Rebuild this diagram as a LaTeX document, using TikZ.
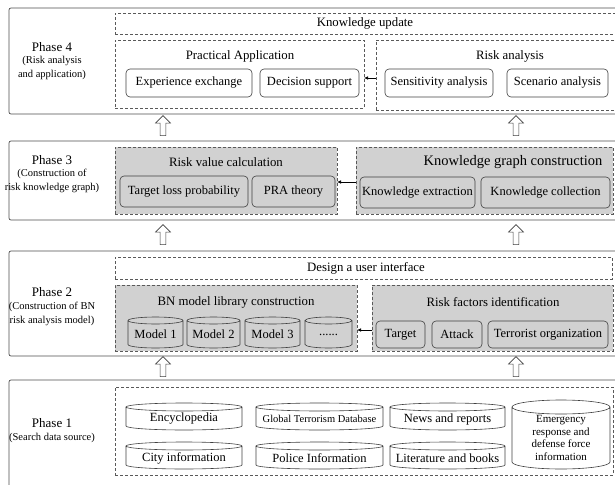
\documentclass[tikz,border=0pt]{standalone}
\usepackage{fontspec}
\setmainfont{Liberation Serif}
\usetikzlibrary{arrows.meta,shapes.arrows,calc}
\tikzset{
 outerbox/.style={draw=black!70, line width=0.7pt, rounded corners=2pt},
 dbox/.style={draw=black!65, dash pattern=on 3pt off 2pt, line width=0.6pt},
 gbox/.style={dbox, fill=black!18},
 sub/.style={draw=black!75, rounded corners=4pt, line width=0.6pt, font=\fontsize{12.5}{14}\selectfont},
 ttl/.style={font=\fontsize{12.8}{14}\selectfont, inner sep=0pt},
 bigttl/.style={font=\fontsize{14.5}{16}\selectfont, inner sep=0pt},
 cyltext/.style={font=\fontsize{12.5}{14}\selectfont},
 phasettl/.style={align=center, font=\fontsize{13}{15}\selectfont, inner sep=0pt},
 phasesub/.style={align=center, font=\fontsize{10.5}{13.5}\selectfont, inner sep=0pt},
 hollow/.style={single arrow, draw=black!75, fill=white, shape border rotate=90, minimum height=20pt, minimum width=15pt, single arrow head extend=3.5pt, inner sep=1.8pt, line width=0.6pt},
 link/.style={-{Latex[length=4pt,width=3.5pt]}, line width=0.6pt},
}
\newcommand\bx[7]{\node[#6, minimum width={(#4)-(#2)}, minimum height={(#5)-(#3)}, inner sep=0pt, outer sep=0pt, align=center] (#1) at ({((#2)+(#4))/2},{((#3)+(#5))/2}) {#7};}
\newcommand\low[2]{\raisebox{-#1pt}[\height][\depth]{#2}}
\newcommand\cyldraw[2]{\draw[line width=0.6pt, draw=black!75] let \p1=(#1.north west), \p2=(#1.south east), \n1={(\x2-\x1)/2} in
 (\x1,{\y1-#2pt}) -- (\x1,{\y2+#2pt}) arc[start angle=180, end angle=360, x radius=\n1, y radius={#2pt}] -- (\x2,{\y1-#2pt}) arc[start angle=0, end angle=180, x radius=\n1, y radius={#2pt}] arc[start angle=180, end angle=360, x radius=\n1, y radius={#2pt}];}
\begin{document}
\begin{tikzpicture}[x=1pt,y=-1pt]
\useasboundingbox (0,0) rectangle (615,484);
\clip (0,0) rectangle (615,484);
% ---------------- Phase 4
\draw[outerbox] (9,8) rectangle (640,114);
\node[phasettl] (p4) at (52,47) {Phase 4};
\node[phasesub] (p4s) at (52,68) {(Risk analysis\\and application)};
\bx{ku}{115}{13}{630}{34}{dbox}{}
\node[ttl] (kut) at (365,23) {Knowledge update};
\bx{pa}{115}{40}{364}{108}{dbox}{}
\node[ttl] (pat) at (240,56) {Practical Application};
\bx{ee}{126}{69}{252}{97}{sub}{Experience exchange}
\bx{ds}{260}{69}{359}{97}{sub}{Decision support}
\bx{ra}{376}{40}{640}{110}{dbox}{}
\node[ttl] (rat) at (510,56) {Risk analysis};
\bx{sa}{385}{69}{493}{97}{sub}{Sensitivity analysis}
\bx{sc}{507}{69}{608}{97}{sub}{Scenario analysis}
\coordinate (y4) at (0,78);
\draw[link] (ra.west |- y4) -- (pa.east |- y4);
\node[hollow] (h4a) at (163,127) {};
\node[hollow] (h4b) at (516,127) {};
% ---------------- Phase 3
\draw[outerbox] (9,141) rectangle (640,220);
\node[phasettl] (p3) at (52,160) {Phase 3};
\node[phasesub] (p3s) at (52,181) {(Construction of\\risk knowledge graph)};
\bx{rv}{115}{147}{337}{214}{gbox}{}
\node[ttl] (rvt) at (226,162) {Risk value calculation};
\bx{tl}{120}{176}{248}{207}{sub}{Target loss probability}
\bx{pr}{252}{176}{335}{207}{sub}{PRA theory}
\bx{kg}{356}{147}{613}{214}{gbox}{}
\node[bigttl] (kgt) at (513,162) {Knowledge graph construction};
\bx{ke}{360}{177}{475}{208}{sub}{Knowledge extraction}
\bx{kc}{481}{177}{610}{208}{sub}{Knowledge collection}
\coordinate (y3) at (0,182);
\draw[link] (kg.west |- y3) -- (rv.east |- y3);
\node[hollow] (h3a) at (163,236) {};
\node[hollow] (h3b) at (516,236) {};
% ---------------- Phase 2
\draw[outerbox] (9,251) rectangle (640,356);
\node[phasettl] (p2) at (52,292) {Phase 2};
\node[phasesub] (p2s) at (52,314) {(Construction of BN\\risk analysis model)};
\bx{ui}{115}{257}{612}{279}{dbox}{}
\node[ttl] (uit) at (366,268) {Design a user interface};
\bx{bn}{115}{285}{357}{351}{gbox}{}
\node[ttl] (bnt) at (236,302) {BN model library construction};
\bx{m1}{128}{317}{183}{348}{cyltext}{\low{2}{Model 1}}
\bx{m2}{187}{317}{240}{348}{cyltext}{\low{2}{Model 2}}
\bx{m3}{245}{317}{300}{348}{cyltext}{\low{2}{Model 3}}
\bx{m4}{305}{317}{352}{348}{cyltext}{\low{2}{......}}
\cyldraw{m1}{3.5}\cyldraw{m2}{3.5}\cyldraw{m3}{3.5}\cyldraw{m4}{3.5}
\bx{rf}{372}{285}{613}{351}{gbox}{}
\node[ttl] (rft) at (493,302) {Risk factors identification};
\bx{tg}{376}{321}{425}{348}{sub}{Target}
\bx{at}{432}{321}{482}{348}{sub}{Attack}
\bx{to}{488}{321}{608}{348}{sub}{Terrorist organization}
\coordinate (y2) at (0,330);
\draw[link] (rf.west |- y2) -- (bn.east |- y2);
\node[hollow] (h2a) at (163,368) {};
\node[hollow] (h2b) at (516,368) {};
% ---------------- Phase 1
\draw[outerbox] (9,380) rectangle (640,520);
\node[phasettl] (p1) at (52,423) {Phase 1};
\node[phasesub] (p1s) at (52,438) {(Search data source)};
\bx{ds1}{115}{387}{613}{475}{dbox}{}
\bx{enc}{126}{403}{242}{430}{cyltext}{\low{2.5}{Encyclopedia}}
\bx{gtd}{256}{403}{383}{430}{font=\fontsize{10.5}{12}\selectfont}{\low{2.5}{Global Terrorism Database}}
\bx{nws}{390}{403}{505}{430}{cyltext}{\low{2.5}{News and reports}}
\bx{cit}{126}{442}{242}{469}{cyltext}{\low{2.5}{City information}}
\bx{pol}{256}{442}{383}{469}{cyltext}{\low{2.5}{Police Information}}
\bx{lit}{390}{442}{505}{469}{cyltext}{\low{2.5}{Literature and books}}
\bx{emg}{512}{400}{610}{469}{font=\fontsize{11}{12.7}\selectfont}{\low{4.5}{\begin{tabular}{@{}c@{}}Emergency\\response and\\defense force\\information\end{tabular}}}
\cyldraw{enc}{4}\cyldraw{gtd}{4}\cyldraw{nws}{4}\cyldraw{cit}{4}\cyldraw{pol}{4}\cyldraw{lit}{4}\cyldraw{emg}{7}
\end{tikzpicture}
\end{document}
